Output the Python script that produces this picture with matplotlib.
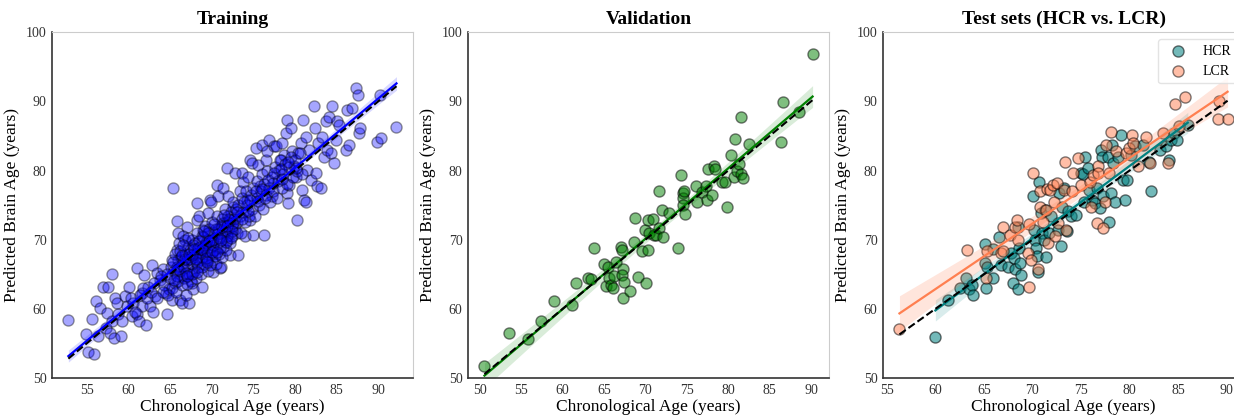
import numpy as np
import matplotlib
matplotlib.use("Agg")
import matplotlib.pyplot as plt

plt.rcParams['font.family'] = ['Liberation Serif', 'DejaVu Serif']

# Training set (chronological age, predicted brain age)
train_pts = [
    (52.8, 58.4), (54.9, 56.4), (55.1, 53.7), (55.9, 53.5), (55.6, 58.5), (56.1, 61.1),
    (56.6, 60.1), (56.9, 63.2), (56.3, 56.0), (57.3, 57.2), (57.4, 59.4), (57.6, 63.2),
    (57.8, 56.5), (58.0, 58.2), (58.1, 65.1), (58.3, 55.8), (58.4, 61.6), (58.6, 60.8),
    (58.8, 59.2), (59.1, 56.1), (59.3, 58.2), (59.6, 61.8), (59.8, 60.4), (60.1, 63.2),
    (60.4, 58.9), (60.6, 60.8), (61.1, 65.9), (61.0, 59.2), (61.3, 58.2), (61.6, 62.3),
    (61.7, 60.4), (61.9, 64.9), (62.1, 57.7), (62.4, 63.2), (62.6, 60.4), (62.8, 66.4),
    (63.0, 59.6), (63.2, 61.8), (63.4, 65.2), (63.8, 64.2), (64.2, 65.7), (64.5, 62.3),
    (64.6, 59.2), (64.9, 62.8), (65.1, 66.1), (65.2, 61.3), (65.4, 77.5), (65.6, 63.7),
    (65.8, 72.7), (65.8, 68.5), (66.0, 71.0), (66.0, 67.1), (66.2, 61.3), (66.4, 60.8),
    (66.5, 64.7), (66.8, 70.0), (67.0, 71.9), (67.3, 60.8), (67.6, 63.7), (67.8, 62.8),
    (68.2, 72.9), (68.2, 75.3), (68.5, 73.4), (68.8, 63.2), (69.0, 71.4), (69.6, 73.8),
    (69.8, 75.8), (69.9, 75.5), (70.2, 65.4), (70.6, 77.9), (70.8, 76.3), (71.0, 65.9),
    (71.1, 66.1), (71.4, 77.5), (71.8, 80.3), (72.0, 76.3), (72.2, 67.8), (72.6, 74.8),
    (72.8, 79.6), (73.0, 71.0), (73.2, 67.8), (73.4, 77.0), (73.6, 79.6), (73.8, 78.4),
    (74.0, 70.5), (74.2, 75.8), (74.4, 79.1), (74.6, 81.6), (74.6, 72.9), (74.8, 81.1),
    (75.0, 70.7), (75.3, 83.2), (75.6, 80.8), (75.8, 77.7), (76.1, 83.7), (76.3, 70.7),
    (76.5, 81.6), (76.7, 82.8), (76.9, 84.4), (77.3, 76.3), (77.5, 83.5), (77.7, 83.5),
    (78.1, 80.1), (78.3, 81.6), (78.5, 84.0), (78.7, 82.3), (78.9, 85.4), (79.0, 76.7),
    (79.1, 87.3), (79.2, 75.3), (79.3, 77.9), (79.5, 86.1), (79.7, 82.8), (79.9, 80.6),
    (80.1, 79.1), (80.3, 72.9), (80.4, 82.5), (80.7, 84.0), (80.9, 77.2), (81.0, 87.3),
    (81.1, 75.8), (81.3, 75.5), (81.3, 84.9), (81.5, 80.1), (81.7, 83.0), (81.9, 78.7),
    (82.3, 89.3), (82.4, 86.1), (82.5, 79.6), (82.7, 77.7), (82.8, 84.0), (83.1, 77.5),
    (83.3, 84.9), (83.5, 82.0), (83.7, 87.1), (83.9, 83.0), (84.1, 87.8), (84.3, 82.5),
    (84.5, 89.3), (84.7, 81.1), (84.9, 84.4), (85.1, 87.1), (85.3, 86.6), (86.1, 83.0),
    (86.3, 88.8), (86.5, 83.7), (86.9, 89.0), (87.3, 91.9), (87.6, 91.0), (87.7, 85.4),
    (87.8, 86.1), (89.9, 84.2), (90.3, 84.7), (90.2, 91.0), (92.2, 86.3),
    (64.3, 63.5), (64.6, 65.0), (64.8, 62.0), (65.0, 64.5), (65.2, 67.0), (65.3, 63.0),
    (65.5, 65.5), (65.6, 68.0), (65.7, 62.5), (65.9, 66.0), (66.0, 64.0), (66.1, 69.5),
    (66.2, 65.5), (66.3, 67.5), (66.4, 63.5), (66.5, 66.5), (66.6, 70.5), (66.7, 64.5),
    (66.8, 68.0), (66.9, 62.0), (67.0, 66.0), (67.1, 67.0), (67.2, 69.0), (67.3, 65.0),
    (67.4, 68.5), (67.5, 64.0), (67.6, 70.0), (67.7, 66.5), (67.8, 67.5), (67.9, 65.5),
    (68.0, 69.5), (68.1, 64.5), (68.2, 68.0), (68.3, 71.0), (68.4, 66.0), (68.5, 67.0),
    (68.6, 69.0), (68.7, 65.0), (68.8, 70.5), (68.9, 67.5), (69.0, 68.5), (69.1, 66.5),
    (69.2, 72.0), (69.3, 69.5), (69.4, 67.0), (69.5, 70.0), (69.6, 65.5), (69.7, 71.5),
    (69.8, 68.0), (69.9, 69.0), (70.0, 67.0), (70.1, 72.5), (70.2, 70.0), (70.3, 68.5),
    (70.4, 71.0), (70.5, 66.5), (70.6, 73.5), (70.7, 69.5), (70.8, 71.5), (70.9, 68.0),
    (71.0, 70.5), (71.1, 72.0), (71.2, 67.5), (71.3, 73.0), (71.4, 69.0), (71.5, 71.0),
    (71.6, 74.5), (71.7, 68.5), (71.8, 72.5), (71.9, 70.0), (72.0, 73.5), (72.1, 71.5),
    (72.2, 69.5), (72.3, 74.0), (72.4, 72.0), (72.5, 70.5), (72.6, 75.5), (72.7, 73.0),
    (72.8, 71.5), (72.9, 74.5), (73.0, 72.5), (73.2, 75.0), (73.4, 73.5), (73.5, 71.0),
    (73.7, 76.0), (73.8, 74.0), (74.0, 72.5), (74.1, 77.0), (74.3, 75.0), (74.5, 73.5),
    (74.7, 76.5), (74.9, 74.5), (75.0, 77.5), (75.2, 73.5), (75.4, 76.0), (75.5, 78.5),
    (75.7, 75.0), (75.9, 77.0), (76.0, 79.5), (76.2, 74.5), (76.3, 78.0), (76.5, 76.5),
    (76.7, 80.0), (76.9, 77.5), (77.0, 75.5), (77.2, 79.0), (77.4, 77.0), (77.6, 80.5),
    (77.8, 76.0), (78.0, 78.5), (78.2, 81.5), (78.4, 77.5), (78.6, 79.5), (78.8, 81.0),
    (79.0, 78.0), (79.3, 80.5), (79.5, 82.0), (79.8, 79.0), (80.0, 81.5), (80.3, 80.0),
    (80.6, 82.5), (80.9, 79.5),
    (60.3, 61.5), (60.8, 59.5), (61.4, 62.0), (61.8, 63.0), (62.2, 61.5), (62.7, 62.5),
    (63.1, 63.8), (63.5, 61.5), (63.9, 64.8), (64.2, 62.5),
    (65.4, 66.8), (65.8, 64.8), (66.2, 68.4), (66.6, 66.2), (67.0, 63.6), (67.4, 67.2),
    (67.8, 69.2), (68.2, 66.6), (68.6, 68.2), (69.0, 70.4), (69.4, 68.4), (69.8, 66.4),
    (70.2, 69.2), (70.6, 70.8), (71.0, 68.8), (71.4, 72.4), (71.8, 70.6), (72.2, 72.8),
    (70.0, 70.0), (69.2, 69.2), (68.4, 68.8), (67.6, 67.8), (66.8, 67.2), (71.6, 71.2),
    (72.6, 72.4), (73.6, 73.0), (74.4, 74.2), (75.6, 75.6), (76.4, 76.0), (77.4, 78.2),
    (78.4, 78.8), (70.4, 67.6), (69.6, 71.0), (68.8, 66.0), (67.2, 70.2),
    (65.5, 64.2), (66.0, 65.8), (66.4, 67.8), (66.9, 65.2), (67.3, 68.0), (67.7, 65.0),
    (68.1, 67.2), (68.5, 69.8), (68.9, 68.6), (69.3, 67.4), (69.7, 69.8), (70.1, 68.2),
    (70.5, 71.6), (70.9, 70.2), (71.3, 71.8), (71.7, 69.6), (72.1, 73.0), (72.5, 71.2),
    (66.6, 69.2), (67.1, 64.8), (67.9, 68.6), (68.3, 65.4), (69.1, 71.2), (69.5, 66.8),
    (70.3, 72.2), (70.7, 68.2), (71.1, 70.0), (71.5, 73.6), (71.9, 72.0), (72.3, 70.2),
    (73.1, 74.0), (73.9, 75.4), (74.6, 75.8), (75.3, 77.0), (76.1, 77.4), (76.8, 78.6),
    (77.5, 79.6), (78.3, 80.2), (79.2, 81.2), (80.1, 80.4),
]
train_age = [p[0] for p in train_pts]
train_pred = [p[1] for p in train_pts]

# Validation set
val_age = [50.56, 53.58, 55.83, 57.44, 58.93, 61.15, 61.63, 63.1, 63.4, 63.8, 64.97, 65.25,
           65.45, 65.65, 65.85, 66.1, 66.25, 66.4, 67.0, 67.2, 67.3, 67.2, 67.3, 67.4, 68.1,
           68.6, 68.7, 69.1, 69.55, 69.9, 70.1, 70.3, 70.3, 70.4, 70.9, 71.1, 71.3, 71.6,
           71.7, 71.95, 72.1, 72.8, 73.9, 74.3, 74.5, 74.55, 74.6, 74.75, 74.7, 76.1, 76.2,
           76.8, 77.3, 77.5, 77.6, 78.1, 78.3, 78.4, 79.2, 79.65, 79.9, 80.3, 80.7, 80.8,
           81.1, 81.3, 81.5, 81.6, 81.8, 82.5, 86.4, 86.65, 88.6, 90.2]
val_pred = [51.8, 56.5, 55.6, 58.3, 61.2, 60.5, 63.7, 64.4, 64.3, 68.8, 66.5, 63.3,
            66.1, 64.45, 63.4, 63.05, 64.8, 66.8, 69.0, 68.5, 65.75, 64.9, 61.6, 63.9, 62.6,
            69.6, 73.1, 64.6, 68.3, 71.4, 63.7, 72.9, 68.5, 71.0, 73.0, 70.7, 70.7, 77.0,
            71.7, 74.3, 70.4, 73.9, 68.8, 79.4, 76.8, 76.1, 75.0, 73.7, 77.1, 77.8, 75.4,
            76.9, 77.8, 75.8, 80.2, 76.4, 80.7, 80.2, 78.3, 78.3, 74.8, 82.2, 79.0, 84.5,
            79.95, 80.9, 79.5, 87.8, 78.9, 83.9, 84.2, 89.9, 88.4, 96.8]

# Test sets
hcr_pts = [
    (60.0, 55.9), (61.3, 61.3), (62.5, 63.0), (63.2, 64.5), (63.5, 62.8), (63.8, 63.5),
    (63.9, 62.0), (65.1, 69.4), (65.1, 66.7), (65.2, 63.0), (65.3, 66.1), (65.9, 64.5),
    (65.9, 68.6), (66.6, 70.4), (66.8, 66.4), (67.5, 66.1), (67.8, 68.1), (68.0, 63.7),
    (68.1, 67.3), (68.2, 65.8), (68.5, 62.8), (68.5, 71.9), (68.6, 68.8), (68.7, 66.6),
    (68.8, 64.9), (70.1, 76.3), (70.2, 71.4), (70.3, 70.0), (70.4, 68.8), (70.5, 67.6),
    (70.6, 65.4), (70.7, 78.4), (70.9, 73.8), (71.0, 71.0), (71.2, 70.0), (71.3, 74.3),
    (71.4, 67.5), (71.7, 71.0), (71.9, 73.4), (72.6, 71.4), (72.7, 76.7), (72.9, 69.1),
    (73.0, 74.8), (73.3, 77.5), (73.6, 71.2), (73.7, 74.1), (74.0, 73.4), (74.5, 73.6),
    (75.0, 79.6), (75.2, 79.5), (75.3, 75.5), (75.4, 82.0), (75.7, 80.3), (75.8, 77.2),
    (76.1, 75.8), (76.4, 75.3), (76.6, 77.5), (77.0, 74.6), (77.1, 83.0), (77.2, 82.0),
    (77.3, 76.3), (77.8, 82.0), (77.9, 72.5), (78.1, 76.7), (78.2, 83.7), (78.3, 81.1),
    (78.5, 75.5), (78.8, 82.0), (79.1, 85.2), (79.3, 78.7), (79.5, 75.8), (79.7, 78.7),
    (80.2, 82.3), (80.6, 83.5), (81.4, 83.7), (82.0, 81.3), (82.2, 77.1), (83.1, 83.0),
    (83.8, 83.5), (84.1, 81.6), (84.3, 84.4), (84.6, 85.4), (84.9, 84.4), (86.0, 86.6),
]
lcr_pts = [
    (56.3, 57.1), (63.3, 68.5), (65.2, 64.5), (65.3, 68.3), (66.8, 68.1), (67.0, 71.9),
    (67.0, 68.3), (67.7, 70.7), (68.2, 71.9), (68.4, 72.9), (68.5, 70.0), (69.5, 68.1),
    (69.6, 72.2), (69.6, 63.2), (69.9, 67.1), (70.1, 79.6), (70.6, 65.8), (70.8, 77.0),
    (70.8, 74.8), (71.1, 72.6), (71.4, 74.3), (71.5, 77.3), (71.6, 69.5), (71.8, 77.2),
    (72.1, 77.9), (72.2, 75.5), (72.3, 70.5), (72.5, 78.2), (72.6, 72.4), (73.2, 77.2),
    (73.4, 81.3), (73.5, 71.4), (74.1, 77.0), (74.2, 79.6), (74.7, 81.8), (75.0, 77.9),
    (75.9, 78.4), (76.0, 74.8), (76.2, 79.4), (76.6, 72.4), (76.7, 80.6), (76.8, 79.6),
    (77.3, 71.7), (77.5, 75.4), (77.6, 83.7), (77.9, 79.6), (78.1, 85.6), (78.6, 82.8),
    (79.6, 82.5), (79.9, 83.2), (80.3, 85.2), (80.4, 84.0), (80.9, 80.6), (81.7, 84.9),
    (82.1, 81.1), (83.4, 85.5), (84.0, 81.1), (84.7, 89.7), (85.1, 86.4), (85.7, 90.7),
    (89.1, 87.4), (89.2, 90.0), (90.1, 87.4),
]
hcr_age = [p[0] for p in hcr_pts]
hcr_pred = [p[1] for p in hcr_pts]
lcr_age = [p[0] for p in lcr_pts]
lcr_pred = [p[1] for p in lcr_pts]


def ajuste(ax, x, y, color, alpha_band=0.15):
    # recta de regresion con banda de confianza del 95%
    x = np.asarray(x, float)
    y = np.asarray(y, float)
    b, a = np.polyfit(x, y, 1)
    xs = np.linspace(x.min(), x.max(), 100)
    ys = a + b * xs
    res = y - (a + b * x)
    s = np.sqrt(np.sum(res**2) / (len(x) - 2))
    sxx = np.sum((x - x.mean())**2)
    se = s * np.sqrt(1.0 / len(x) + (xs - x.mean())**2 / sxx)
    ax.fill_between(xs, ys - 1.96 * se, ys + 1.96 * se, color=color, alpha=alpha_band, lw=0)
    ax.plot(xs, ys, color=color, lw=1.6)


def identidad(ax, x):
    lo, hi = min(x), max(x)
    ax.plot([lo, hi], [lo, hi], color="k", ls="--", lw=1.5, zorder=5)


def puntos(ax, x, y, color, a_cara, a_borde, label=None):
    cara = matplotlib.colors.to_rgba(color, a_cara)
    borde = (0.0, 0.0, 0.0, a_borde)
    ax.scatter(x, y, s=64, facecolors=[cara], edgecolors=[borde], lw=1, label=label)


def estilo(ax, titulo):
    ax.set_title(titulo, fontsize=14, fontweight="bold", pad=6)
    ax.set_xlabel("Chronological Age (years)", fontsize=12.5, labelpad=2)
    ax.set_ylabel("Predicted Brain Age (years)", fontsize=12.5, labelpad=4)
    ax.set_ylim(50, 100)
    ax.set_yticks([50, 60, 70, 80, 90, 100])
    ax.tick_params(length=0, labelsize=10, pad=4, colors="#333333")
    for lado in ["top", "right"]:
        ax.spines[lado].set_color("#cccccc")
    for lado in ["left", "bottom"]:
        ax.spines[lado].set_color("#333333")
        ax.spines[lado].set_linewidth(1.2)


fig = plt.figure(figsize=(12.34, 4.15), dpi=100)
w, h, b0 = 0.2925, 0.833, 0.0892
ax1 = fig.add_axes([0.0421, b0, w, h])
ax2 = fig.add_axes([0.3793, b0, w, h])
ax3 = fig.add_axes([0.7156, b0, w, h])

# Training
puntos(ax1, train_age, train_pred, "blue", 0.35, 0.4)
ajuste(ax1, train_age, train_pred, "blue")
identidad(ax1, train_age)
ax1.set_xticks([55, 60, 65, 70, 75, 80, 85, 90])
estilo(ax1, "Training")

# Validation
puntos(ax2, val_age, val_pred, "green", 0.5, 0.5)
ajuste(ax2, val_age, val_pred, "green")
identidad(ax2, val_age)
ax2.set_xticks([50, 55, 60, 65, 70, 75, 80, 85, 90])
estilo(ax2, "Validation")

# Test
puntos(ax3, hcr_age, hcr_pred, "teal", 0.55, 0.55, "HCR")
puntos(ax3, lcr_age, lcr_pred, "coral", 0.5, 0.5, "LCR")
ajuste(ax3, hcr_age, hcr_pred, "teal")
ajuste(ax3, lcr_age, lcr_pred, "coral", 0.2)
identidad(ax3, hcr_age + lcr_age)
ax3.set_xticks([55, 60, 65, 70, 75, 80, 85, 90])
estilo(ax3, "Test sets (HCR vs. LCR)")
ax3.legend(loc="upper right", bbox_to_anchor=(1.0, 1.0), fontsize=10, frameon=True,
           edgecolor="#dddddd")

fig.savefig("out.png", dpi=100)
